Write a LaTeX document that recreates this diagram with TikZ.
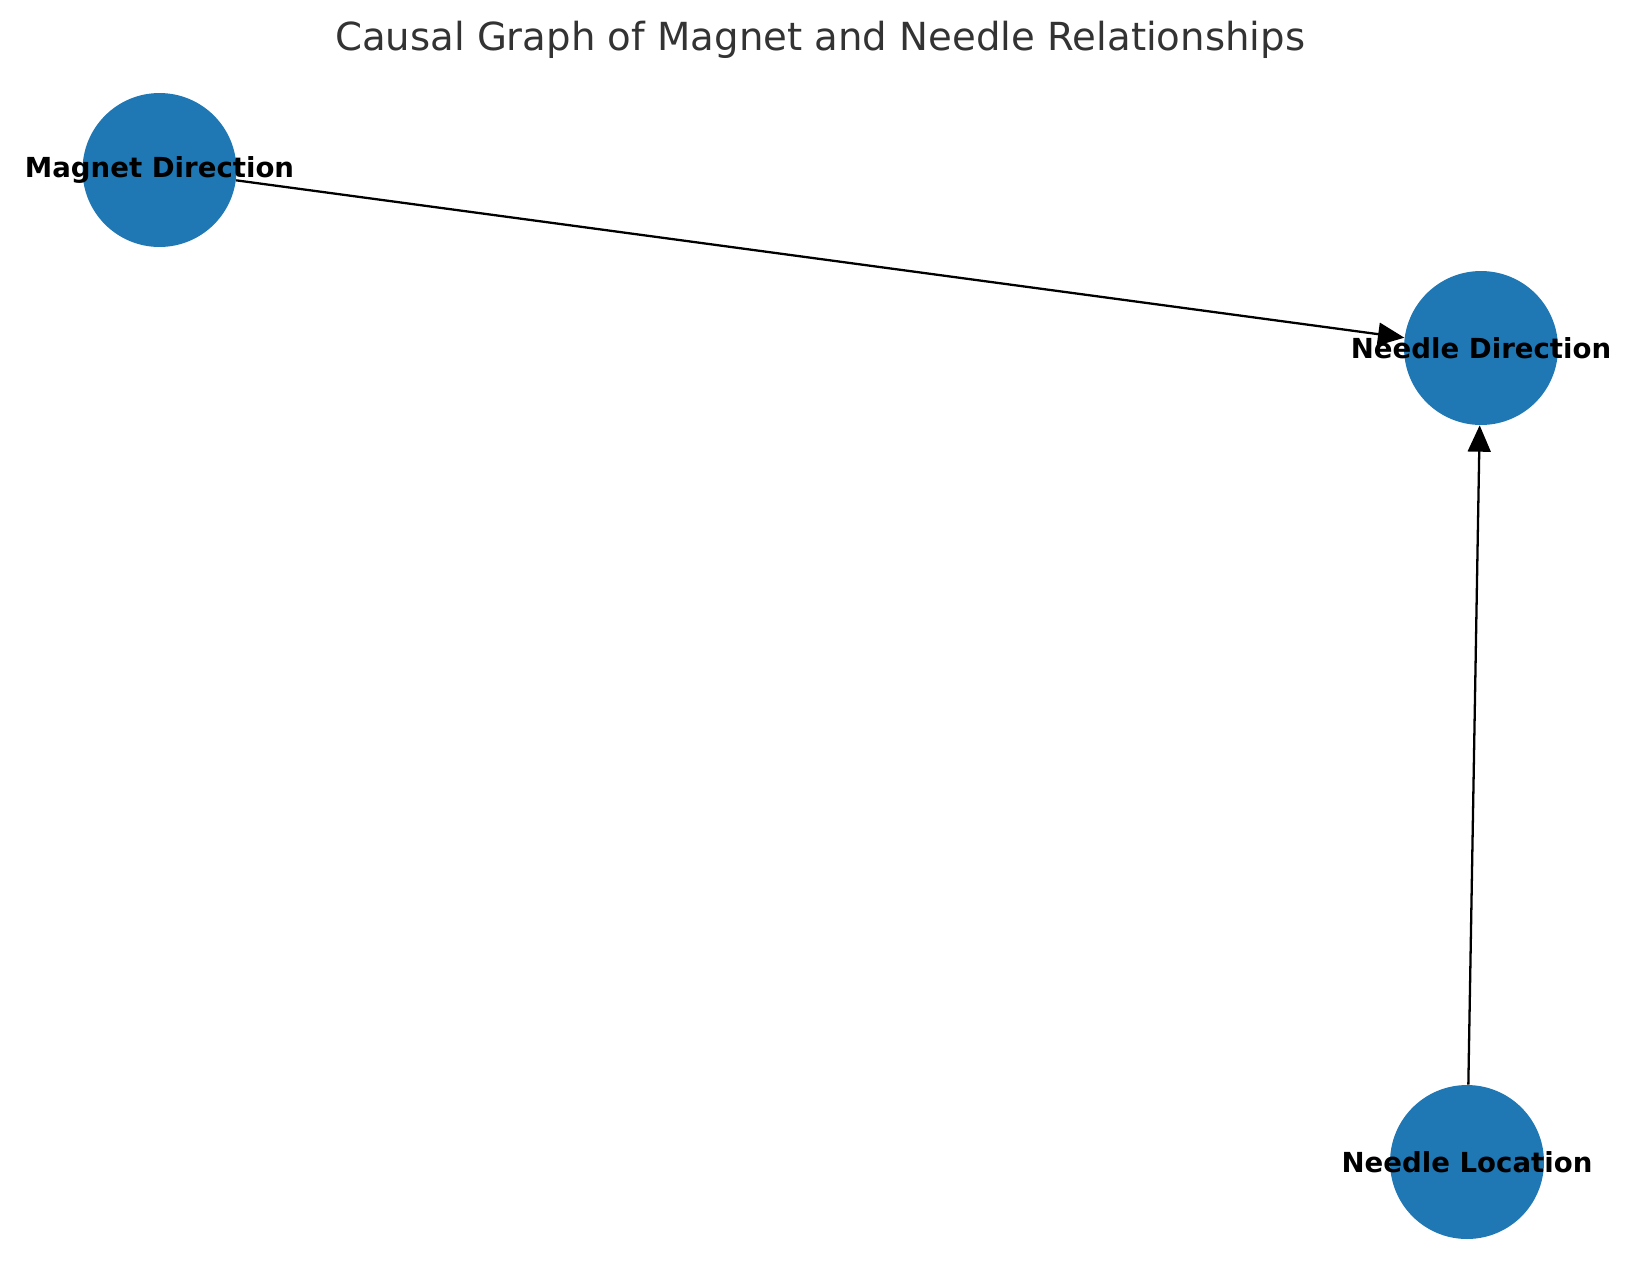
\documentclass[tikz,border=0pt]{standalone}
\usepackage{fontspec}
\setmainfont{DejaVu Sans}
\usetikzlibrary{arrows.meta}
\definecolor{nodeblue}{HTML}{1F77B4}
\definecolor{titlegray}{HTML}{333333}

\begin{document}
\begin{tikzpicture}[
    x=0.02cm, y=-0.02cm,
    dot/.style={circle, fill=nodeblue, inner sep=0pt, minimum size=3.08cm},
    nodetext/.style={font=\fontsize{15.7}{18}\selectfont\bfseries, text=black},
    arrow/.style={-{Triangle[length=15pt, width=13pt]}, line width=1.3pt, black}
]
\useasboundingbox (0,0) rectangle (1639,1286);

\node[font=\fontsize{22}{26}\selectfont, text=titlegray] (title) at (820,40) {Causal Graph of Magnet and Needle Relationships};

\node[dot, label={[nodetext]center:Magnet Direction}] (md) at (159.5,170) {};
\node[dot, label={[nodetext]center:Needle Direction}] (nd) at (1481,348) {};
\node[dot, label={[nodetext]center:Needle Location}] (nl) at (1467,1162) {};

\draw[arrow] (md) -- (nd);
\draw[arrow] (nl) -- (nd);
\end{tikzpicture}
\end{document}
